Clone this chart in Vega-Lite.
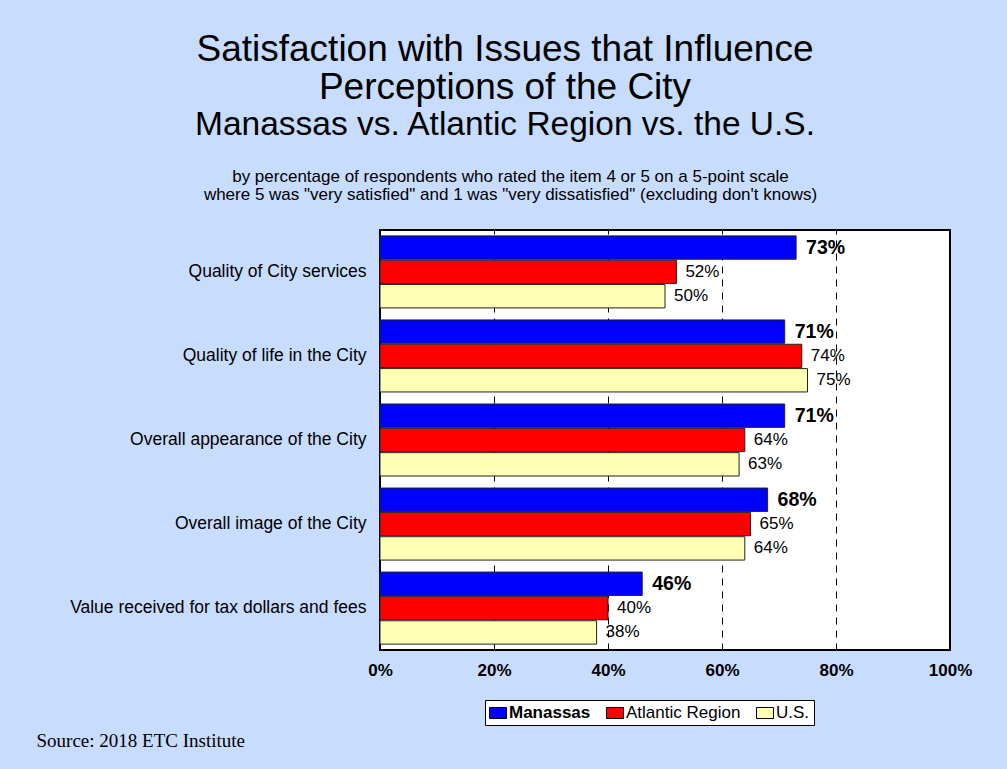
{
  "$schema": "https://vega.github.io/schema/vega-lite/v6.json",
  "width": 570,
  "height": 420,
  "autosize": {"type": "none"},
  "padding": {"left": 380, "top": 230, "right": 57, "bottom": 119},
  "background": "#c8dcfe",
  "config": {
    "font": "Liberation Sans",
    "view": {"fill": "white", "stroke": "black", "strokeWidth": 2}
  },
  "title": {
    "text": ["Satisfaction with Issues that Influence", "Perceptions of the City"],
    "subtitle": "Manassas vs. Atlantic Region vs. the U.S.",
    "font": "Liberation Sans",
    "fontSize": 37,
    "fontWeight": "normal",
    "lineHeight": 38,
    "color": "black",
    "subtitleFont": "Liberation Sans",
    "subtitleFontSize": 33.5,
    "subtitleColor": "black",
    "subtitlePadding": 2,
    "anchor": "middle",
    "frame": "group",
    "dx": -160,
    "offset": 25
  },
  "data": {
    "values": [
      {"item": "Quality of City services", "series": "Manassas", "value": 0.73},
      {"item": "Quality of City services", "series": "Atlantic Region", "value": 0.52},
      {"item": "Quality of City services", "series": "U.S.", "value": 0.50},
      {"item": "Quality of life in the City", "series": "Manassas", "value": 0.71},
      {"item": "Quality of life in the City", "series": "Atlantic Region", "value": 0.74},
      {"item": "Quality of life in the City", "series": "U.S.", "value": 0.75},
      {"item": "Overall appearance of the City", "series": "Manassas", "value": 0.71},
      {"item": "Overall appearance of the City", "series": "Atlantic Region", "value": 0.64},
      {"item": "Overall appearance of the City", "series": "U.S.", "value": 0.63},
      {"item": "Overall image of the City", "series": "Manassas", "value": 0.68},
      {"item": "Overall image of the City", "series": "Atlantic Region", "value": 0.65},
      {"item": "Overall image of the City", "series": "U.S.", "value": 0.64},
      {"item": "Value received for tax dollars and fees", "series": "Manassas", "value": 0.46},
      {"item": "Value received for tax dollars and fees", "series": "Atlantic Region", "value": 0.40},
      {"item": "Value received for tax dollars and fees", "series": "U.S.", "value": 0.38}
    ]
  },
  "encoding": {
    "y": {
      "field": "item",
      "type": "nominal",
      "sort": ["Quality of City services", "Quality of life in the City", "Overall appearance of the City", "Overall image of the City", "Value received for tax dollars and fees"],
      "scale": {"paddingInner": 0.143, "paddingOuter": 0.07},
      "axis": {"title": null, "domain": false, "ticks": false, "labelFontSize": 17.5, "labelColor": "black", "labelPadding": 14, "labelLimit": 400}
    },
    "yOffset": {
      "field": "series",
      "type": "nominal",
      "sort": ["Manassas", "Atlantic Region", "U.S."],
      "scale": {"paddingInner": 0.04, "paddingOuter": 0}
    }
  },
  "layer": [
    {
      "mark": {"type": "bar", "stroke": "#222222", "strokeWidth": 1},
      "encoding": {
        "x": {
          "field": "value",
          "type": "quantitative",
          "scale": {"domain": [0, 1]},
          "axis": {
            "orient": "bottom",
            "values": [0, 0.2, 0.4, 0.6, 0.8, 1],
            "format": ".0%",
            "labelFontSize": 17,
            "labelFontWeight": "bold",
            "labelColor": "black",
            "labelPadding": 12,
            "labelFlush": false,
            "ticks": false,
            "domain": false,
            "grid": true,
            "gridColor": "black",
            "gridDash": [7, 6],
            "gridWidth": 1,
            "gridOpacity": 1,
            "title": "Source:  2018 ETC Institute",
            "titleFont": "Liberation Serif",
            "titleFontSize": 19,
            "titleFontWeight": "normal",
            "titleColor": "black",
            "titleAnchor": "start",
            "titleAlign": "left",
            "titleX": -344,
            "titleY": 96,
            "titleBaseline": "alphabetic"
          }
        },
        "color": {
          "field": "series",
          "type": "nominal",
          "sort": ["Manassas", "Atlantic Region", "U.S."],
          "scale": {"domain": ["Manassas", "Atlantic Region", "U.S."], "range": ["#0000ff", "#ff0000", "#ffffb3"]},
          "legend": {
            "orient": "none",
            "legendX": 105,
            "legendY": 470,
            "direction": "horizontal",
            "title": null,
            "fillColor": "white",
            "strokeColor": "black",
            "padding": 4,
            "labelFontSize": 17,
            "labelColor": "black",
            "labelOffset": 2,
            "columnPadding": 13,
            "symbolType": "M-1,-0.65L1,-0.65L1,0.65L-1,0.65Z",
            "symbolSize": 289,
            "symbolStrokeColor": "black",
            "symbolStrokeWidth": 1,
            "symbolOpacity": 1,
            "encode": {
              "labels": {"update": {"fontWeight": {"signal": "datum.label === 'Manassas' ? 'bold' : 'normal'"}}}
            }
          }
        }
      }
    },
    {
      "transform": [{"filter": "datum.series === 'Manassas'"}],
      "mark": {"type": "text", "align": "left", "baseline": "middle", "dx": 10, "fontSize": 19.5, "fontWeight": "bold", "color": "black"},
      "encoding": {
        "x": {
          "field": "value",
          "type": "quantitative",
          "axis": {
            "orient": "top",
            "labels": false,
            "ticks": false,
            "domain": false,
            "grid": false,
            "title": ["by percentage of respondents who rated the item 4 or 5 on a 5-point scale", "where 5 was \"very satisfied\" and 1 was \"very dissatisfied\" (excluding don't knows)"],
            "titleFontSize": 17,
            "titleFontWeight": "normal",
            "titleLineHeight": 18,
            "titleColor": "black",
            "titleX": 130,
            "titleY": -45,
            "titleAlign": "center",
            "titleBaseline": "bottom"
          }
        },
        "text": {"field": "value", "type": "quantitative", "format": ".0%"}
      }
    },
    {
      "transform": [{"filter": "datum.series !== 'Manassas'"}],
      "mark": {"type": "text", "align": "left", "baseline": "middle", "dx": 9, "fontSize": 17, "color": "black"},
      "encoding": {
        "x": {"field": "value", "type": "quantitative", "axis": null},
        "text": {"field": "value", "type": "quantitative", "format": ".0%"}
      }
    }
  ],
  "resolve": {"axis": {"x": "independent"}}
}
